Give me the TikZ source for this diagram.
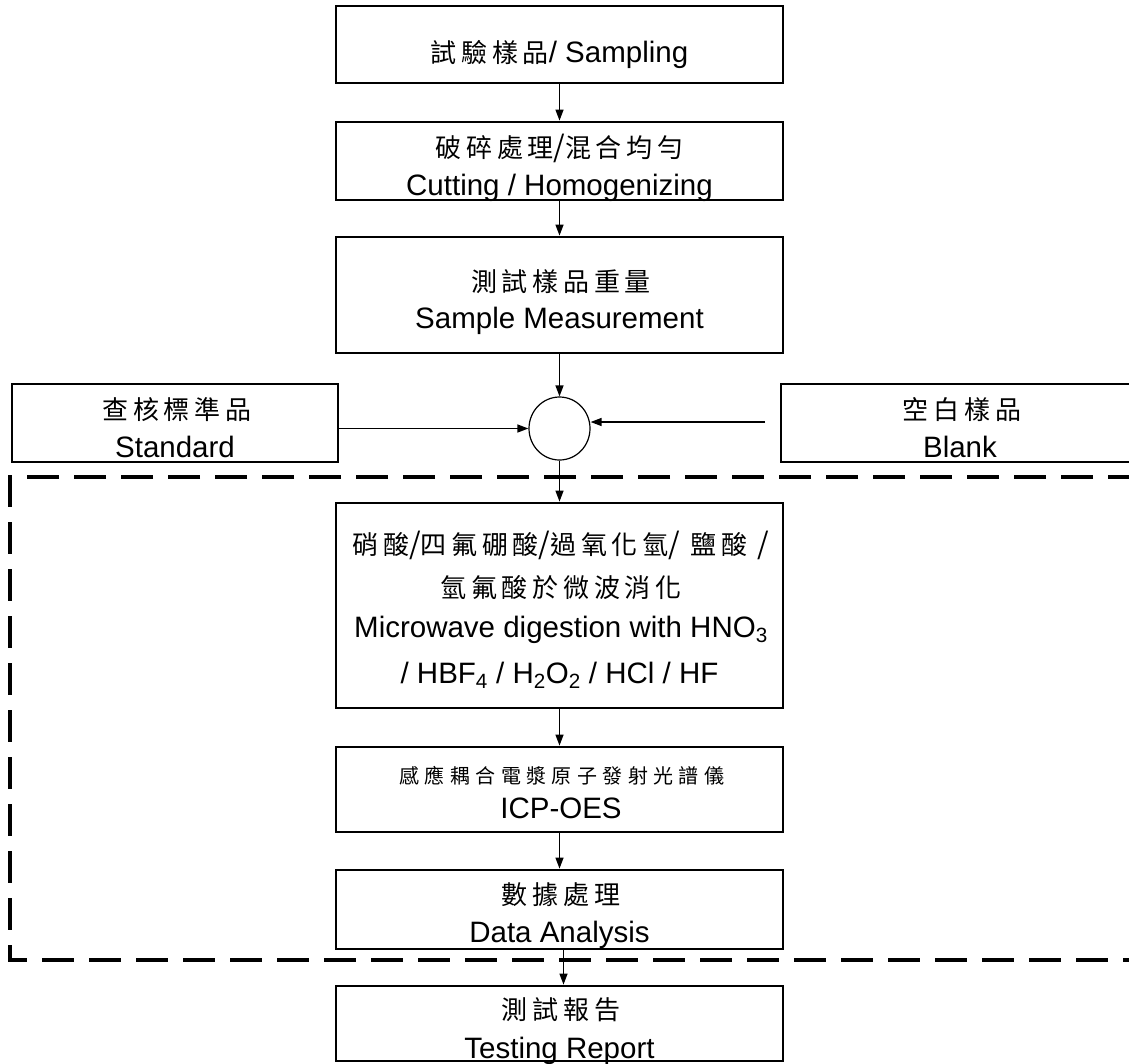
\documentclass[tikz,border=0pt]{standalone}
\usepackage{fontspec}
\setmainfont{Liberation Sans}
\newfontfamily\cjkfont[LetterSpace=18]{Noto Sans CJK TC}
\newfontfamily\cjksmallfont[LetterSpace=27]{Noto Sans CJK TC}
\usetikzlibrary{arrows.meta,shapes.geometric}
\newcommand\enf{\fontsize{29.5}{34}\selectfont}
\newcommand\zhf{\cjkfont\fontsize{26}{30}\selectfont}
\newcommand\zhsf{\cjksmallfont\fontsize{20}{24}\selectfont}
\tikzset{
  box/.style={draw, line width=2.8pt, minimum width=447pt, inner sep=0pt},
  conn/.style={-{Triangle[length=11pt,width=8pt]}, line width=1.3pt},
  entext/.style={font=\enf, anchor=base, inner sep=0pt},
  zhtext/.style={font=\zhf, anchor=base, inner sep=0pt},
  zhsmall/.style={font=\zhsf, anchor=base, inner sep=0pt},
  dashbox/.style={line width=3.2pt, dash pattern=on 32pt off 15pt},
}
\begin{document}
\begin{tikzpicture}[x=1pt,y=-1pt]
\useasboundingbox (0,0) rectangle (1129,1063);
% boxes
\node[box, minimum height=77pt] (b1) at (559.5,44.5) {};
\node[box, minimum height=78pt] (b2) at (559.5,161) {};
\node[box, minimum height=116pt] (b3) at (559.5,295) {};
\node[box, minimum width=326pt, minimum height=78pt] (std) at (175,423) {};
\node[box, minimum width=358pt, minimum height=78pt] (blank) at (960,423) {};
\node[draw, ellipse, minimum width=61pt, minimum height=63pt, inner sep=0pt, line width=1.2pt] (c) at (559.5,428.5) {};
\node[box, minimum height=205pt] (b4) at (559.5,605.5) {};
\node[box, minimum height=85pt] (b5) at (559.5,789.5) {};
\node[box, minimum height=79pt] (b6) at (559.5,909.5) {};
\node[box, minimum height=75pt] (b7) at (559.5,1023.5) {};
% texts
\node[entext] (t1) at (559.5,62) {{\zhf 試驗樣品}/ Sampling};
\node[zhtext] (t2a) at (559.5,157) {破碎處理{\enf/}混合均勻};
\node[entext] (t2b) at (559.5,195) {Cutting / Homogenizing};
\node[zhtext] (t3a) at (561,291) {測試樣品重量};
\node[entext] (t3b) at (559.5,328) {Sample Measurement};
\node[zhtext] (tsa) at (177,419) {查核標準品};
\node[entext] (tsb) at (175,457) {Standard};
\node[zhtext] (tba) at (962,419) {空白樣品};
\node[entext] (tbb) at (960,457) {Blank};
\node[zhtext] (t4a) at (561,554) {硝酸{\enf/}四氟硼酸{\enf/}過氧化氫{\enf/} 鹽酸 {\enf/}};
\node[zhtext] (t4b) at (561,597) {氫氟酸於微波消化};
\node[entext] (t4c) at (561,637) {Microwave digestion with HNO\textsubscript{3}};
\node[entext] (t4d) at (559.5,683) {/ HBF\textsubscript{4} / H\textsubscript{2}O\textsubscript{2} / HCl / HF};
\node[zhsmall] (t5a) at (562,783) {感應耦合電漿原子發射光譜儀};
\node[entext] (t5b) at (561,818) {ICP-OES};
\node[zhtext] (t6a) at (561,904) {數據處理};
\node[entext] (t6b) at (559.5,942) {Data Analysis};
\node[zhtext] (t7a) at (561,1019) {測試報告};
\node[entext] (t7b) at (559.5,1058) {Testing Report};
% dashed region
\coordinate (dtr) at (1140,477);
\coordinate (dtl) at (10,477);
\coordinate (dbl) at (10,960);
\coordinate (dbr) at (1140,960);
\draw[dashbox] (dtr) -- (dtl) -- (dbl) -- (dbr);
% connectors
\coordinate (bl) at (765,422);
\draw[conn] (b1) -- (b2);
\draw[conn] (b2) -- (b3);
\draw[conn] (b3) -- (c);
\draw[conn] (std.east |- c) -- (c.west);
\draw[conn] (bl) -- (c.east |- bl);
\draw[conn] (c) -- (b4);
\draw[conn] (b4) -- (b5);
\draw[conn] (b5) -- (b6);
\draw[conn] ([xshift=4pt]b6.south) -- ([xshift=4pt]b7.north);
\end{tikzpicture}
\end{document}
